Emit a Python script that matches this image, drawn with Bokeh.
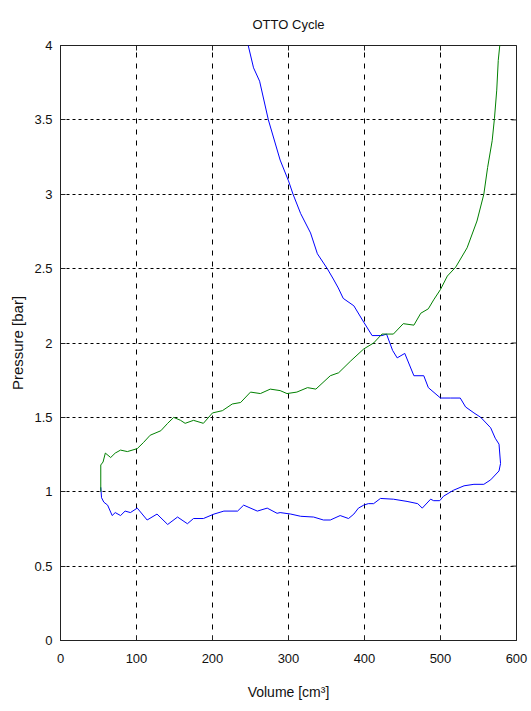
from math import pi

from bokeh.plotting import figure
from bokeh.models import FixedTicker, Range1d, Title
from bokeh.embed import file_html
from bokeh.resources import INLINE

# Measured P-V loop of an Otto engine cycle
# Blue trace: expansion stroke and return along the low-pressure loop
blue_volume = [243, 247, 254, 262, 273.5, 289, 300, 306, 316, 329, 338, 351, 359, 365.5,
               372, 386, 399, 410, 423, 429, 437, 443, 453, 465, 478, 484, 500, 513, 526,
               533, 544, 553, 566, 572, 577, 579, 577, 566, 557, 544, 531, 517, 504, 499,
               491, 487, 476, 470, 456, 438, 421, 412, 405, 399, 392, 386, 379, 368, 355,
               346, 333, 316, 303, 289, 285, 272, 259, 241, 233, 215, 202, 188, 175, 167,
               154, 141, 127, 114, 101, 92, 85, 79, 72, 68, 62, 57, 54, 53]
blue_pressure = [4.25, 4.0, 3.85, 3.76, 3.5, 3.23, 3.09, 3.0, 2.87, 2.74, 2.6, 2.5, 2.43, 2.37,
                 2.3, 2.25, 2.14, 2.05, 2.05, 2.06, 1.95, 1.9, 1.93, 1.78, 1.78, 1.7, 1.63, 1.63, 1.63,
                 1.57, 1.53, 1.5, 1.43, 1.36, 1.32, 1.19, 1.14, 1.08, 1.05, 1.05, 1.04, 1.01, 0.97, 0.94,
                 0.94, 0.95, 0.89, 0.92, 0.935, 0.95, 0.955, 0.92, 0.92, 0.91, 0.89, 0.85, 0.82, 0.84, 0.81,
                 0.81, 0.83, 0.835, 0.85, 0.86, 0.855, 0.89, 0.87, 0.91, 0.87, 0.87, 0.85, 0.82, 0.82, 0.785,
                 0.83, 0.78, 0.85, 0.81, 0.89, 0.86, 0.87, 0.84, 0.86, 0.84, 0.91, 0.93, 0.96, 1.03]

# Green trace: compression stroke
green_volume = [53, 53, 56, 59, 66, 72, 79, 88, 101, 109, 118, 132, 141, 149, 158, 164, 175,
                188, 200, 213, 226, 237, 250, 263, 276, 289, 298, 311, 325, 336, 355, 366,
                382, 399, 412, 423, 438, 451, 465, 474, 484, 491, 500, 509, 520, 535, 548,
                557, 562, 568, 571, 574, 576, 578, 580]
green_pressure = [1.0, 1.18, 1.2, 1.26, 1.23, 1.26, 1.28, 1.27, 1.29, 1.33, 1.38, 1.41, 1.46, 1.5,
                  1.48, 1.46, 1.48, 1.46, 1.53, 1.545, 1.59, 1.6, 1.67, 1.66, 1.69, 1.68, 1.66, 1.67,
                  1.7, 1.69, 1.78, 1.8, 1.88, 1.96, 2.0, 2.06, 2.06, 2.13, 2.12, 2.2, 2.23, 2.29, 2.36,
                  2.45, 2.51, 2.64, 2.82, 3.0, 3.18, 3.36, 3.51, 3.7, 3.9, 4.0, 4.25]

x_ticks = [0, 100, 200, 300, 400, 500, 600]
y_ticks = [0, 0.5, 1, 1.5, 2, 2.5, 3, 3.5, 4]
x_min, x_max = 0, 600
y_min, y_max = 0, 4

FONT = "Liberation Sans"
AXIS_COLOR = "#222222"

p = figure(width=531, height=711, output_backend="svg", toolbar_location=None,
           x_range=Range1d(x_min, x_max), y_range=Range1d(y_min, y_max),
           min_border_left=60, min_border_right=15, min_border_top=45, min_border_bottom=71,
           outline_line_color=AXIS_COLOR, outline_line_width=1)

p.title = Title(text="OTTO Cycle", align="center", text_font=FONT,
                text_font_size="13px", text_font_style="normal", text_color="#111111",
                offset=0, standoff=27)

p.xgrid.ticker = FixedTicker(ticks=x_ticks)
p.ygrid.ticker = FixedTicker(ticks=y_ticks)
p.xgrid.grid_line_color = "#000000"
p.xgrid.grid_line_dash = "5 6"
p.ygrid.grid_line_color = "#000000"
p.ygrid.grid_line_dash = "3 3"

p.line(blue_volume, blue_pressure, line_color="#0000ff", line_width=1)
p.line(green_volume, green_pressure, line_color="#008000", line_width=1)

# Inward tick marks on the top and right edges of the box (half of each dash is clipped away)
p.scatter(x=x_ticks, y=[y_max] * len(x_ticks), marker="dash", size=10, angle=pi / 2,
          line_color=AXIS_COLOR, line_width=1)
p.scatter(x=[x_max] * len(y_ticks), y=y_ticks, marker="dash", size=10,
          line_color=AXIS_COLOR, line_width=1)

for ax in p.xaxis:
    ax.ticker = FixedTicker(ticks=x_ticks)
    ax.axis_label = "Volume [cm³]"
for ax in p.yaxis:
    ax.ticker = FixedTicker(ticks=y_ticks)
    ax.axis_label = "Pressure [bar]"

for ax in p.xaxis + p.yaxis:
    ax.major_tick_in = 5
    ax.major_tick_out = 0
    ax.minor_tick_line_color = None
    ax.axis_line_color = AXIS_COLOR
    ax.major_tick_line_color = AXIS_COLOR
    ax.major_label_text_font = FONT
    ax.major_label_text_font_size = "13px"
    ax.major_label_text_color = "#111111"
    ax.axis_label_text_color = "#111111"
    ax.axis_label_text_font = FONT
    ax.axis_label_text_font_style = "normal"

p.xaxis.major_label_standoff = 13
p.xaxis.axis_label_text_font_size = "14px"
p.xaxis.axis_label_standoff = 18
p.yaxis.major_label_standoff = 8
p.yaxis.axis_label_text_font_size = "15px"
p.yaxis.axis_label_standoff = 5

open("out.html", "w").write(file_html(p, INLINE))
